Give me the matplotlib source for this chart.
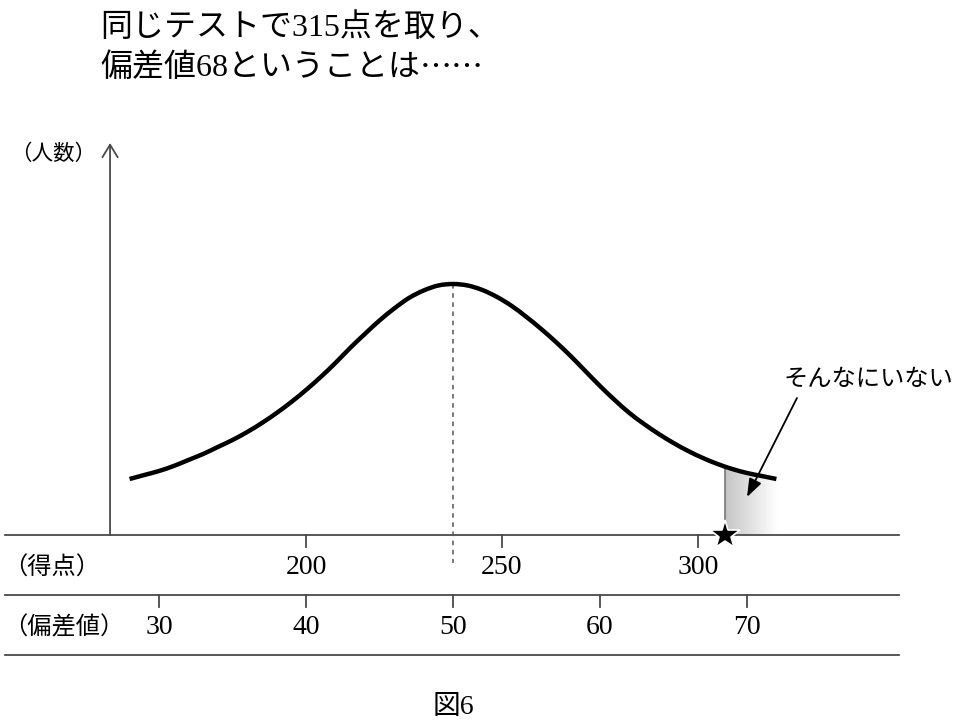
import numpy as np
import matplotlib.pyplot as plt
from matplotlib.patches import Polygon, PathPatch
from matplotlib.path import Path

JP = ['Liberation Serif', 'Noto Sans CJK JP']
plt.rcParams['font.family'] = JP

# curve: height of the bell (arbitrary units) per 偏差値
hensachi = [28, 29, 30, 31, 32, 33, 34, 35, 36, 37, 38, 39, 40, 41, 42, 43, 44,
            45, 46, 47, 48, 49, 50, 51, 52, 53, 54, 55, 56, 57, 58, 59, 60, 61,
            62, 63, 64, 65, 66, 67, 68, 69, 70, 71, 72]
ninzu = [56, 60, 64, 69, 75, 81, 88, 95, 103, 112, 122, 133, 145, 158, 172, 187, 201,
         214.5, 226.5, 237, 244.5, 249.5, 251, 249.5, 245, 238, 229, 218, 206, 193, 179, 164, 149, 135,
         122, 111, 101, 92, 84, 77, 71, 66, 62, 59, 56]

score_ticks = [200, 250, 300]
hensachi_ticks = [30, 40, 50, 60, 70]
score_mean = 237.5      # score that sits under 偏差値 50 in the drawing
score_sd = 37.5         # points per 10 偏差値 in the drawing
star_hensachi = 68.5    # where the 315-point student is marked
mean_hensachi = 50

title_lines = ['同じテストで315点を取り、', '偏差値68ということは']


def score_to_x(s):
    return mean_hensachi + (s - score_mean) / score_sd * 10


def smooth_path(xs, ys):
    # catmull-rom through the read points, drawn as cubic bezier segments
    pts = np.column_stack([xs, ys]).astype(float)
    verts = [pts[0]]
    codes = [Path.MOVETO]
    for i in range(len(pts) - 1):
        p0 = pts[max(i - 1, 0)]
        p1 = pts[i]
        p2 = pts[i + 1]
        p3 = pts[min(i + 2, len(pts) - 1)]
        verts += [p1 + (p2 - p0) / 6, p2 - (p3 - p1) / 6, p2]
        codes += [Path.CURVE4] * 3
    return Path(verts, codes)


fig = plt.figure(figsize=(9.57, 7.26), dpi=100)
ax = fig.add_axes([0, 0, 1, 1])
ax.set_xlim(19.184, 84.286)
ax.set_ylim(-191, 535)
ax.axis('off')

line_col = '#4a4a4a'

# axes and table lines
ax.plot([19.5, 80.34], [0, 0], color=line_col, lw=1.3, zorder=2)
ax.plot([19.5, 80.34], [-60, -60], color=line_col, lw=1.3)
ax.plot([19.5, 80.34], [-120, -120], color=line_col, lw=1.3)
ax.annotate('', xy=(26.67, 392), xytext=(26.67, 0),
            arrowprops=dict(arrowstyle='->,head_length=0.9,head_width=0.55',
                            color=line_col, lw=1.3, shrinkA=0, shrinkB=0))

# bell curve
curve = PathPatch(smooth_path(hensachi, ninzu), facecolor='none', edgecolor='black',
                  lw=3.2, capstyle='butt', zorder=4)
ax.add_patch(curve)

# mean line
peak = ninzu[hensachi.index(mean_hensachi)]
ax.plot([mean_hensachi, mean_hensachi], [peak, -28], color='#555555', lw=1.1,
        linestyle=(0, (3, 3)), zorder=3)

# shaded tail with gradient
h = np.array(hensachi, dtype=float)
n = np.array(ninzu, dtype=float)
y_star = np.interp(star_hensachi, h, n)
mask = h > star_hensachi
xs = np.concatenate([[star_hensachi], h[mask]])
ys = np.concatenate([[y_star], n[mask]])
verts = list(zip(xs, ys)) + [(xs[-1] + 0.1, ys[-1]), (xs[-1] + 0.1, 0), (star_hensachi, 0)]
clip = Polygon(verts, closed=True, facecolor='none', edgecolor='none')
ax.add_patch(clip)
grad = np.linspace(0.72, 1.0, 256) ** 0.8
grad = grad.reshape(1, -1)
im = ax.imshow(grad, cmap='gray', vmin=0, vmax=1, aspect='auto',
               extent=[star_hensachi, xs[-1] + 0.1, 0, y_star + 5], zorder=1)
im.set_clip_path(clip)
ax.plot([star_hensachi, star_hensachi], [0, y_star], color='#777777', lw=1.2, zorder=3)

# star on the baseline
ax.plot([star_hensachi], [0], marker='*', markersize=22, color='black',
        markeredgecolor='white', markeredgewidth=1.2, zorder=5)

# ticks and labels
for s in score_ticks:
    x = score_to_x(s)
    ax.plot([x, x], [0, -12], color=line_col, lw=1.3)
    ax.text(x, -33, str(s), ha='center', va='center', fontsize=20, family=JP)
for v in hensachi_ticks:
    ax.plot([v, v], [-60, -72], color=line_col, lw=1.3)
    ax.text(v, -93, str(v), ha='center', va='center', fontsize=20, family=JP)

ax.text(19.4, -33, '（得点）', ha='left', va='center', fontsize=17.5, family=JP)
ax.text(19.4, -93, '（偏差値）', ha='left', va='center', fontsize=17.5, family=JP)
ax.text(19.9, 380, '（人数）', ha='left', va='center', fontsize=15.5, family=JP)

# titles
ax.text(25.99, 507, title_lines[0], ha='left', va='center', fontsize=23, family=JP)
t2 = ax.text(25.99, 467, title_lines[1], ha='left', va='center', fontsize=23, family=JP)
ax.annotate('……', xy=(1, 0.5), xycoords=t2, ha='left', va='center', fontsize=23,
            family=['Noto Sans CJK JP'])

# annotation
ax.annotate('', xy=(70.0, 38), xytext=(73.4, 137),
            arrowprops=dict(arrowstyle='-|>,head_length=1.1,head_width=0.4',
                            color='black', lw=1.3, shrinkA=0, shrinkB=0), zorder=6)
ax.text(72.5, 155, 'そんなにいない', ha='left', va='center', fontsize=17.5, family=JP)

ax.text(mean_hensachi, -173, '図6', ha='center', va='center', fontsize=20, family=JP)

fig.savefig('out.png', dpi=100, facecolor='white')
